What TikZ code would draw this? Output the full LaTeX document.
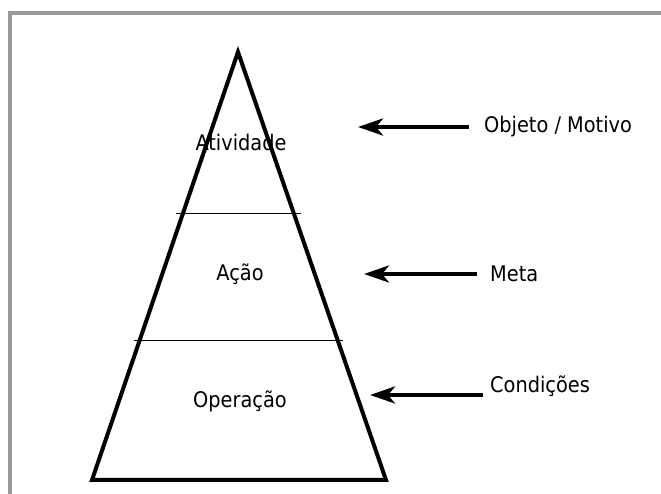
\documentclass[tikz,border=0pt]{standalone}
\usepackage{fontspec}
\setmainfont{DejaVu Sans Condensed}
\usetikzlibrary{arrows.meta}
\begin{document}
\begin{tikzpicture}[x=1pt,y=1pt,
  lbl/.style={font=\fontsize{21.5}{25}\selectfont, inner sep=0pt},
  side/.style={lbl, anchor=west},
  pointer/.style={line width=4pt, -{Stealth[length=25pt,width=17pt,inset=7pt]}},
  divider/.style={line width=1pt}]
  \useasboundingbox (0,0) rectangle (661,494);
  % outer frame, running off the page on the right and bottom
  \draw[color={rgb,255:red,153;green,153;blue,153}, line width=4pt]
    (10,-10) -- (10,481) -- (680,481);
  % pyramid
  \coordinate (apex) at (238,442);
  \coordinate (bl) at (92,14);
  \coordinate (br) at (386,14);
  \draw[line width=4pt, line join=miter] (apex) -- (br) -- (bl) -- cycle;
  % level dividers
  \coordinate (d1l) at (176,280);
  \coordinate (d1r) at (301,280);
  \coordinate (d2l) at (134,153);
  \coordinate (d2r) at (343,153);
  \draw[divider] (d1l) -- (d1r);
  \draw[divider] (d2l) -- (d2r);
  % level names
  \node[lbl] (atv) at (241,352) {Atividade};
  \node[lbl] (acao) at (240,220) {Ação};
  \node[lbl] (oper) at (240,93) {Operação};
  % side labels
  \node[side] (obj) at (484,367) {Objeto / Motivo};
  \node[side] (meta) at (490,220) {Meta};
  \node[side] (cond) at (490,108) {Condições};
  % pointers
  \coordinate (t1) at (358,367);
  \coordinate (t2) at (364,220);
  \coordinate (t3) at (370,99);
  \draw[pointer] (obj.west) ++(-15,0) -- (t1);
  \draw[pointer] (meta.west) ++(-13,0) -- (t2);
  \draw[pointer] (483,99) -- (t3);
\end{tikzpicture}
\end{document}
